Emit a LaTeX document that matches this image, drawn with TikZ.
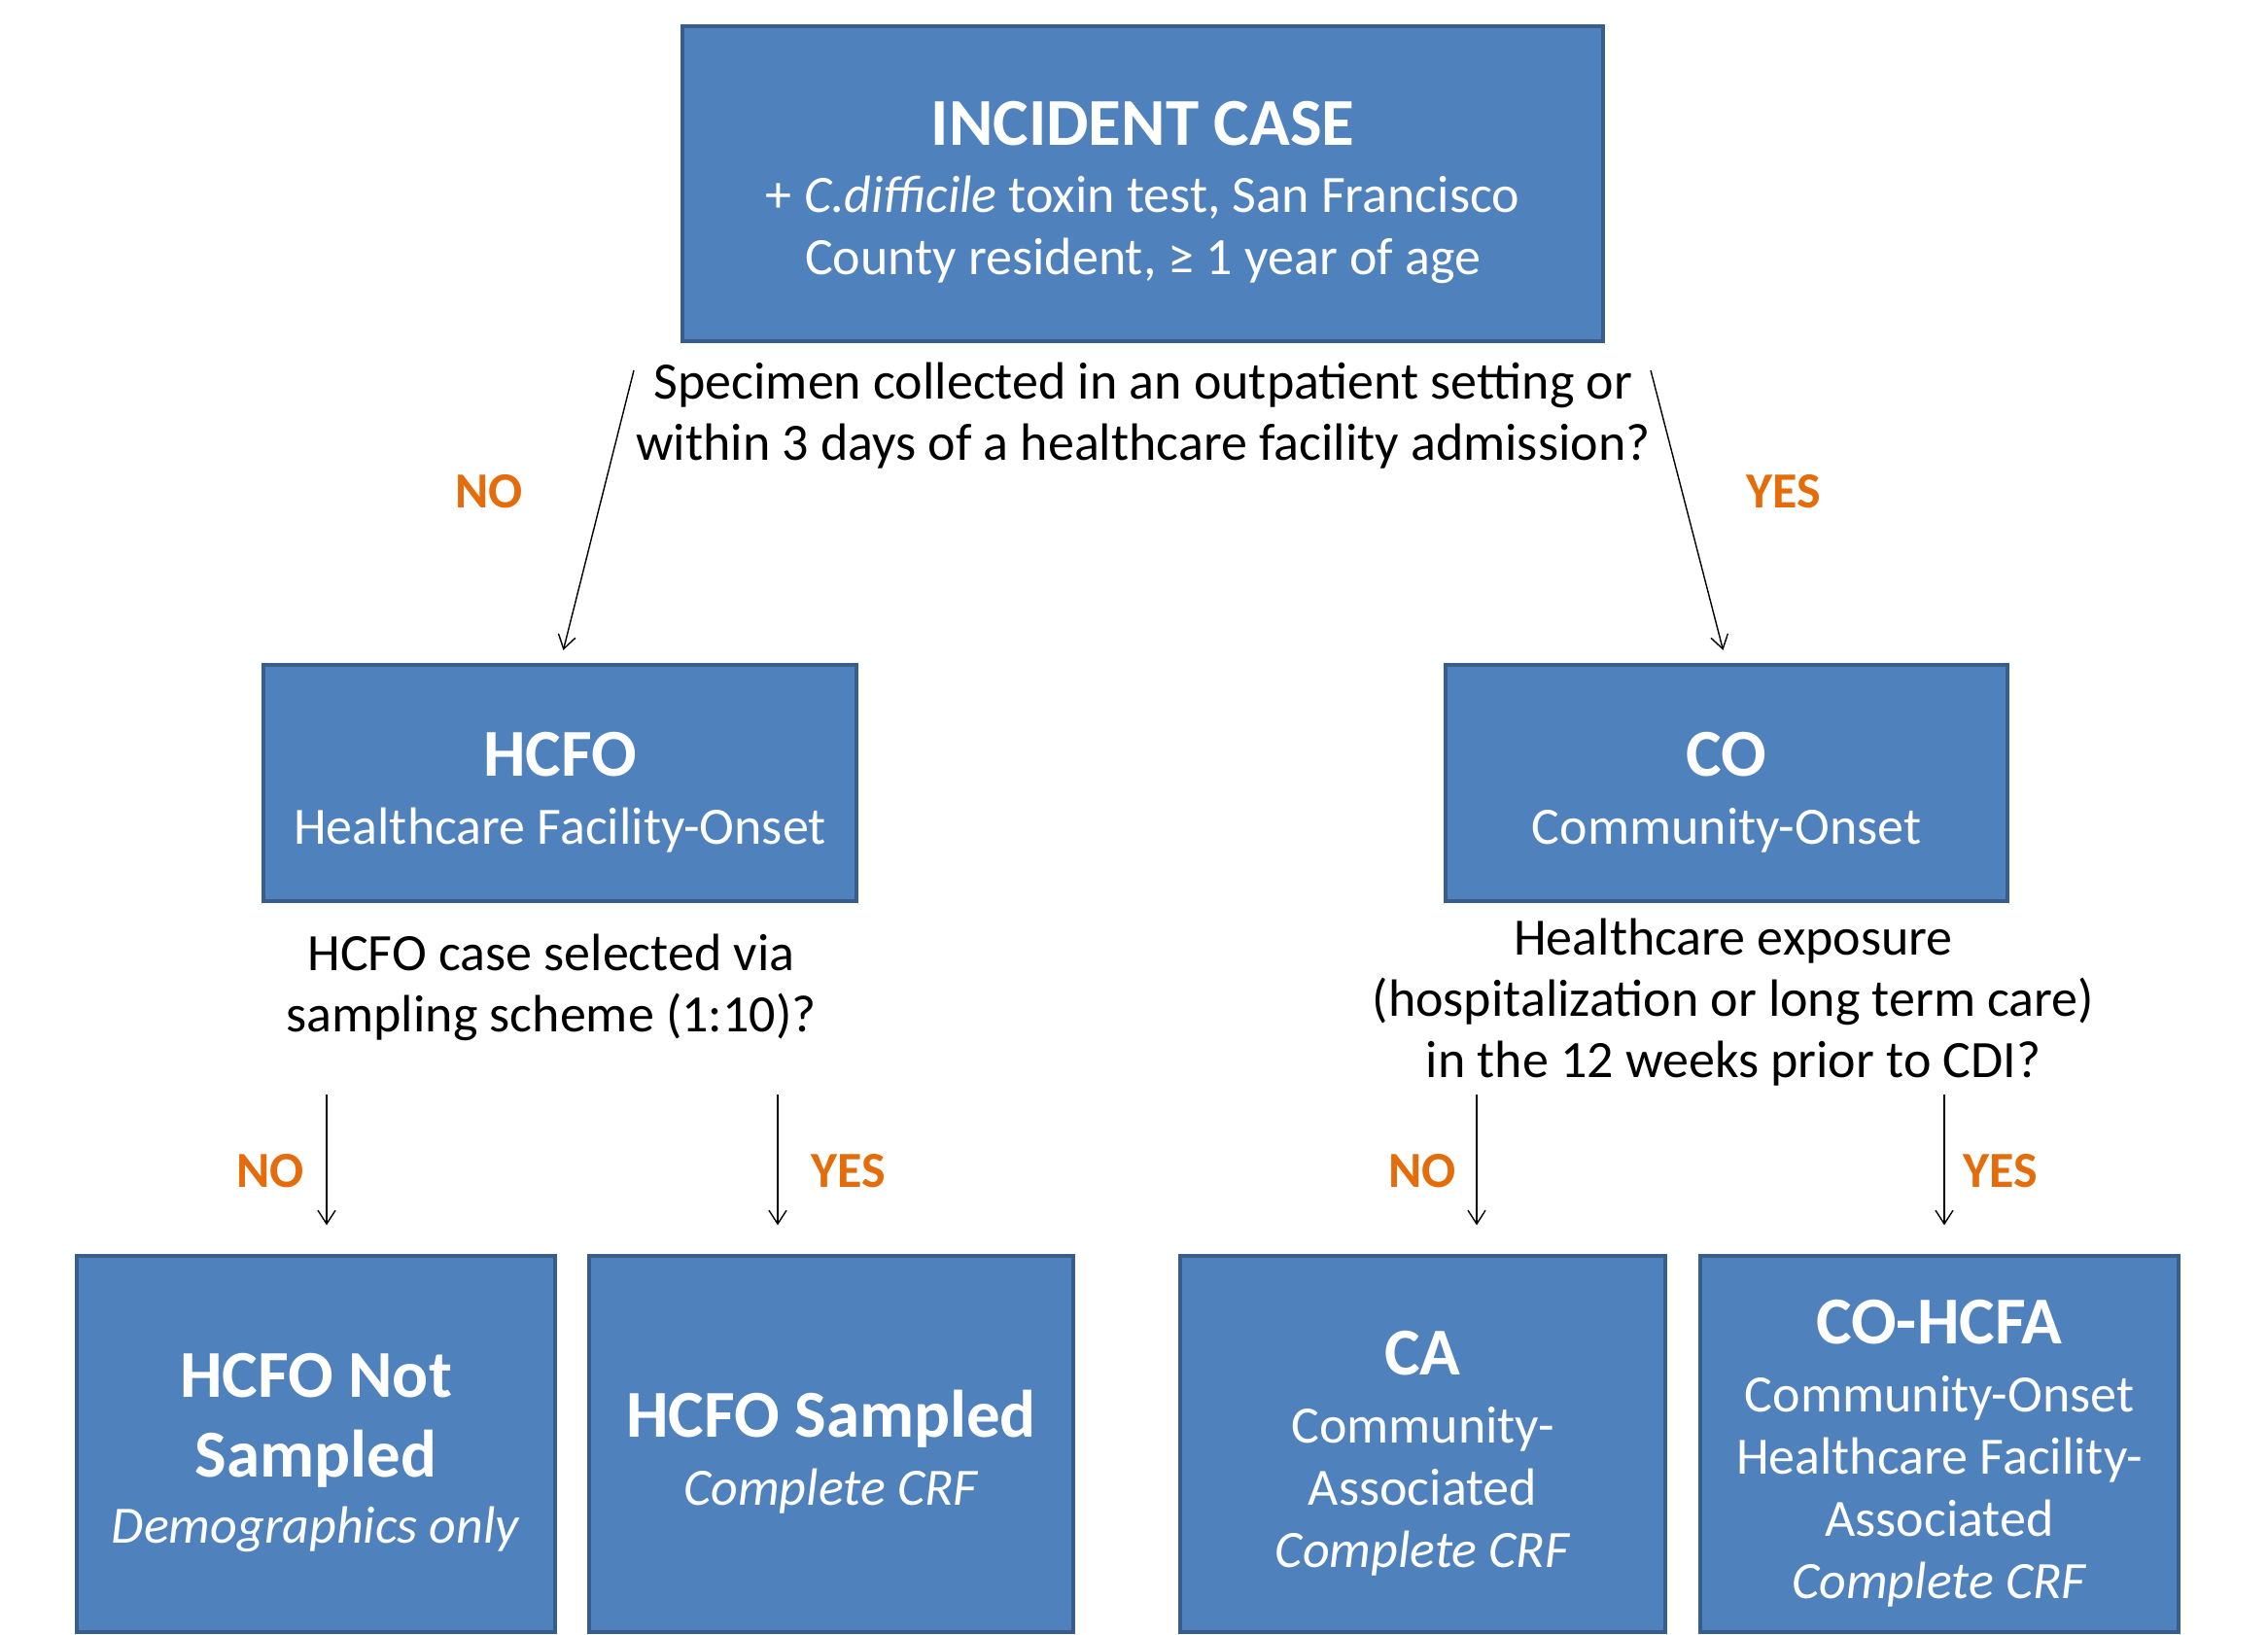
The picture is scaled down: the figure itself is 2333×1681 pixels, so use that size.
\documentclass[tikz,border=0pt]{standalone}
\usepackage{fontspec}
\setmainfont{Carlito}
\usetikzlibrary{arrows.meta,calc}
\definecolor{boxfill}{HTML}{4F81BD}
\definecolor{boxline}{HTML}{385D8A}
\definecolor{lbl}{HTML}{E46C0A}
\newcommand\ttl[1]{{\fontsize{34.5}{40}\selectfont\bfseries #1}}
\newcommand\tstrut{\rule{0pt}{32pt}}
\tikzset{
 box/.style={draw=boxline, fill=boxfill, line width=1.6pt, text=white, align=center, inner sep=0pt,
   font=\fontsize{27}{32}\selectfont},
 qtext/.style={align=center, font=\fontsize{27}{31.5}\selectfont, inner sep=0pt},
 yn/.style={text=lbl, font=\fontsize{26}{30}\selectfont\bfseries, inner sep=0pt},
 arr/.style={-{Straight Barb[length=7pt,width=9pt]}, line width=0.7pt},
}
\begin{document}
\begin{tikzpicture}[x=0.5pt,y=-0.5pt]
\useasboundingbox (0,0) rectangle (2333,1681);
% boxes
\node[box, minimum width=473.5pt, minimum height=162pt] (inc) at (1175.5,189)
  {\tstrut\ttl{INCIDENT CASE}\\[2.5pt] + \textit{C.difficile} toxin test, San Francisco\\ County resident, ≥ 1 year of age};
\node[box, minimum width=305pt, minimum height=121.5pt] (hcfo) at (576,805.5)
  {\tstrut\ttl{HCFO}\\[3pt] Healthcare Facility-Onset};
\node[box, minimum width=289pt, minimum height=121.5pt] (co) at (1776,805.5)
  {\tstrut\ttl{CO}\\[3pt] Community-Onset};
\node[box, minimum width=246pt, minimum height=193.5pt] (hns) at (325,1485.5)
  {\tstrut\ttl{HCFO Not}\\[9pt] \ttl{Sampled}\\[2pt] \textit{Demographics only}};
\node[box, minimum width=249pt, minimum height=193.5pt] (hs) at (855,1485.5)
  {\tstrut\ttl{HCFO Sampled}\\[3pt] \textit{Complete CRF}};
\node[box, minimum width=249.5pt, minimum height=193.5pt] (ca) at (1463.5,1485.5)
  {\tstrut\ttl{CA}\\[3pt] Community-\\ Associated\\ \textit{Complete CRF}};
\node[box, minimum width=246pt, minimum height=193.5pt] (cohcfa) at (1995,1485.5)
  {\tstrut\ttl{CO-HCFA}\\[3pt] Community-Onset\\ Healthcare Facility-\\ Associated\\ \textit{Complete CRF}};
% questions
\node[qtext] (q1) at (1176,428) {Specimen collected in an outpatient setting or\\ within 3 days of a healthcare facility admission?};
\node[qtext] (q2) at (567,1016) {HCFO case selected via\\ sampling scheme (1:10)?};
\node[qtext] (q3) at (1783,1031) {Healthcare exposure\\ (hospitalization or long term care)\\ in the 12 weeks prior to CDI?};
% labels
\node[yn] (no1) at (503,506) {NO};
\node[yn] (yes1) at (1835,506) {YES};
\node[yn] (no2) at (278,1205) {NO};
\node[yn] (yes2) at (873,1205) {YES};
\node[yn] (no3) at (1463,1205) {NO};
\node[yn] (yes3) at (2058,1205) {YES};
% arrows
\coordinate (s1) at (652,381);
\coordinate (s2) at (1698,381);
\coordinate (s3) at (336,1126);
\coordinate (s4) at (800,1126);
\coordinate (s5) at (1519,1126);
\coordinate (s6) at (2000,1126);
\draw[arr, shorten >=7pt] (s1) -- (hcfo.north);
\draw[arr, shorten >=7pt] (s2) -- (co.north);
\draw[arr, shorten >=15pt] (s3) -- (s3 |- hns.north);
\draw[arr, shorten >=15pt] (s4) -- (s4 |- hs.north);
\draw[arr, shorten >=15pt] (s5) -- (s5 |- ca.north);
\draw[arr, shorten >=15pt] (s6) -- (s6 |- cohcfa.north);
\end{tikzpicture}
\end{document}
